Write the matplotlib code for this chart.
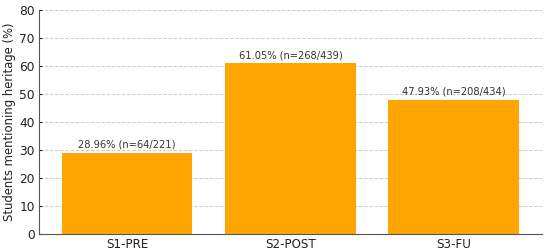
import numpy as np
from matplotlib import pyplot as plt

# survey stages and share of students mentioning heritage
stages = ['S1-PRE', 'S2-POST', 'S3-FU']
pct = [28.96, 61.05, 47.93]
counts = [64, 268, 208]
totals = [221, 439, 434]

fig = plt.figure(figsize=(5.5, 2.52), dpi=100)
ax = fig.add_axes([0.071, 0.073, 0.914, 0.887])

x = np.arange(len(stages))
ax.bar(x, pct, width=0.8, color='#ffa500', zorder=2)

for xi, p, c, t in zip(x, pct, counts, totals):
	ax.text(xi, p + 1, '{0:.2f}% (n={1}/{2})'.format(p, c, t),
		ha='center', va='bottom', fontsize=7.1, color='#333333')

ax.set_xticks(x)
ax.set_xticklabels(stages)
ax.set_ylim(0, 80)
ax.set_yticks(range(0, 81, 10))
ax.set_ylabel('Students mentioning heritage (%)', fontsize=8.4, color='#222222', labelpad=2)
ax.tick_params(labelsize=8.8, colors='#222222', length=2, pad=3, direction='in')
ax.tick_params(axis='x', labelsize=8.6)

ax.grid(axis='y', linestyle='--', color='#cccccc', linewidth=0.7, zorder=0)
ax.set_axisbelow(True)
for s in ['top', 'right']:
	ax.spines[s].set_visible(False)
for s in ['left', 'bottom']:
	ax.spines[s].set_color('#555555')
	ax.spines[s].set_linewidth(0.8)

fig.savefig('out.png', dpi=100)
